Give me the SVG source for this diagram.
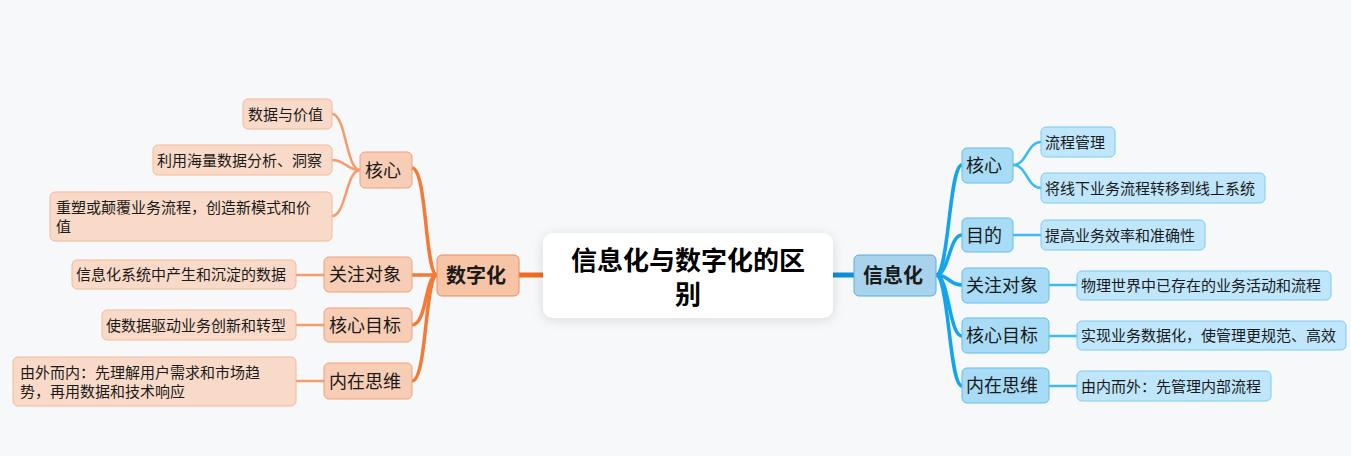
<svg xmlns="http://www.w3.org/2000/svg" width="1351" height="456" viewBox="0 0 1351 456">
<defs>
<filter id="sh" x="-20%" y="-30%" width="140%" height="160%">
<feDropShadow dx="0" dy="2" stdDeviation="6" flood-color="#000" flood-opacity="0.12"/>
</filter>
<style>
text{font-family:"Noto Sans CJK SC","Noto Sans",sans-serif;fill:#1a1a1a}
.t15{font-size:15px}
.t18{font-size:18px}
.t20{font-size:20px;font-weight:bold;text-anchor:middle}
.t26{font-size:26px;font-weight:bold;text-anchor:middle;fill:#000}
.oL1{fill:#f7c4a6;stroke:#ef8a5a;stroke-width:1}
.oL2{fill:#f8cdb5;stroke:#f0a07a;stroke-width:1}
.oL3{fill:#f9dac9;stroke:#f5b898;stroke-width:1}
.bL1{fill:#a9d3ec;stroke:#5aaee0;stroke-width:1}
.bL2{fill:#a8dcf6;stroke:#62bdeb;stroke-width:1}
.bL3{fill:#bfe6fa;stroke:#7cccf2;stroke-width:1}
.c{fill:none;stroke-linecap:round}
.co0{stroke:#f26b21;stroke-width:5}
.co1{stroke:#f47a35;stroke-width:3.5}
.co2{stroke:#f99a6b;stroke-width:2.5}
.cb0{stroke:#0b8fd8;stroke-width:5}
.cb1{stroke:#12a5ee;stroke-width:3.5}
.cb2{stroke:#3cbaf5;stroke-width:2.5}
</style>
</defs>
<rect width="1351" height="456" fill="#f7f8fa"/>
<g id="connectors">
<path class="c co0" d="M543,275 L519,275"/>
<path class="c cb0" d="M833,275 L854,275"/>
<path class="c co1" d="M437,275 C425,275 427,168 412,168"/>
<path class="c co1" d="M437,275 L412,275"/>
<path class="c co1" d="M437,275 C425,275 427,325 412,325"/>
<path class="c co1" d="M437,275 C425,275 427,381 412,381"/>
<path class="c co2" d="M360,170 C346,170 346,114 332,114"/>
<path class="c co2" d="M360,170 C346,170 346,160 332,160"/>
<path class="c co2" d="M360,170 C346,170 346,216 332,216"/>
<path class="c co2" d="M324,275 L296,275"/>
<path class="c co2" d="M324,325 L296,325"/>
<path class="c co2" d="M324,381 L296,381"/>
<path class="c cb1" d="M936,275 C949,275 949,165 962,165"/>
<path class="c cb1" d="M936,275 C949,275 949,235 962,235"/>
<path class="c cb1" d="M936,275 C949,275 949,285 962,285"/>
<path class="c cb1" d="M936,275 C949,275 949,336 962,336"/>
<path class="c cb1" d="M936,275 C949,275 949,386 962,386"/>
<path class="c cb2" d="M1013,165 C1027,165 1027,142 1041,142"/>
<path class="c cb2" d="M1013,165 C1027,165 1027,188 1041,188"/>
<path class="c cb2" d="M1013,235 L1041,235"/>
<path class="c cb2" d="M1049,285 L1077,285"/>
<path class="c cb2" d="M1049,336 L1077,336"/>
<path class="c cb2" d="M1049,386 L1077,386"/>
</g>
<g id="root">
<rect x="543" y="233" width="290" height="85" rx="10" fill="#fff" filter="url(#sh)"/>
<text class="t26" x="688" y="270">信息化与数字化的区</text>
<text class="t26" x="688" y="304">别</text>
</g>
<g id="shuzihua">
<rect class="oL1" x="437" y="255" width="82" height="41" rx="5"/>
<text class="t20" x="476" y="283">数字化</text>
</g>
<g id="xinxihua">
<rect class="bL1" x="854" y="255" width="82" height="41" rx="5"/>
<text class="t20" x="893" y="283">信息化</text>
</g>
<g id="l-hexin">
<rect class="oL2" x="360" y="152" width="52" height="36" rx="5"/>
<text class="t18" x="365" y="176.5">核心</text>
</g>
<g id="l-guanzhu">
<rect class="oL2" x="324" y="257" width="88" height="35" rx="5"/>
<text class="t18" x="329" y="281">关注对象</text>
</g>
<g id="l-mubiao">
<rect class="oL2" x="324" y="308" width="88" height="34" rx="5"/>
<text class="t18" x="329" y="331.5">核心目标</text>
</g>
<g id="l-siwei">
<rect class="oL2" x="324" y="363" width="88" height="36" rx="5"/>
<text class="t18" x="329" y="387.5">内在思维</text>
</g>
<g id="l-leaf1">
<rect class="oL3" x="243" y="99" width="89" height="30" rx="5"/>
<text class="t15" x="248" y="119.5">数据与价值</text>
</g>
<g id="l-leaf2">
<rect class="oL3" x="153" y="145" width="179" height="30" rx="5"/>
<text class="t15" x="157" y="165.5">利用海量数据分析、洞察</text>
</g>
<g id="l-leaf3">
<rect class="oL3" x="50" y="192" width="282" height="49" rx="5"/>
<text class="t15" x="56" y="212.5">重塑或颠覆业务流程，创造新模式和价</text>
<text class="t15" x="56" y="231.5">值</text>
</g>
<g id="l-leaf4">
<rect class="oL3" x="72" y="260" width="224" height="29" rx="5"/>
<text class="t15" x="76" y="280">信息化系统中产生和沉淀的数据</text>
</g>
<g id="l-leaf5">
<rect class="oL3" x="102" y="310" width="194" height="30" rx="5"/>
<text class="t15" x="106" y="330.5">使数据驱动业务创新和转型</text>
</g>
<g id="l-leaf6">
<rect class="oL3" x="13" y="357" width="283" height="49" rx="5"/>
<text class="t15" x="20" y="377.5">由外而内：先理解用户需求和市场趋</text>
<text class="t15" x="20" y="396.5">势，再用数据和技术响应</text>
</g>
<g id="r-hexin">
<rect class="bL2" x="962" y="148" width="51" height="35" rx="5"/>
<text class="t18" x="966" y="172">核心</text>
</g>
<g id="r-mudi">
<rect class="bL2" x="962" y="218" width="51" height="34" rx="5"/>
<text class="t18" x="966" y="241.5">目的</text>
</g>
<g id="r-guanzhu">
<rect class="bL2" x="962" y="268" width="87" height="35" rx="5"/>
<text class="t18" x="966" y="292">关注对象</text>
</g>
<g id="r-mubiao">
<rect class="bL2" x="962" y="318" width="87" height="35" rx="5"/>
<text class="t18" x="966" y="342">核心目标</text>
</g>
<g id="r-siwei">
<rect class="bL2" x="962" y="368" width="87" height="35" rx="5"/>
<text class="t18" x="966" y="392">内在思维</text>
</g>
<g id="r-leaf1">
<rect class="bL3" x="1041" y="127" width="74" height="30" rx="5"/>
<text class="t15" x="1045" y="147.5">流程管理</text>
</g>
<g id="r-leaf2">
<rect class="bL3" x="1041" y="173" width="224" height="30" rx="5"/>
<text class="t15" x="1045" y="193.5">将线下业务流程转移到线上系统</text>
</g>
<g id="r-leaf3">
<rect class="bL3" x="1041" y="220" width="164" height="30" rx="5"/>
<text class="t15" x="1045" y="240.5">提高业务效率和准确性</text>
</g>
<g id="r-leaf4">
<rect class="bL3" x="1077" y="271" width="254" height="29" rx="5"/>
<text class="t15" x="1081" y="291">物理世界中已存在的业务活动和流程</text>
</g>
<g id="r-leaf5">
<rect class="bL3" x="1077" y="321" width="269" height="29" rx="5"/>
<text class="t15" x="1081" y="341">实现业务数据化，使管理更规范、高效</text>
</g>
<g id="r-leaf6">
<rect class="bL3" x="1077" y="371" width="194" height="30" rx="5"/>
<text class="t15" x="1081" y="391.5">由内而外：先管理内部流程</text>
</g>
</svg>
